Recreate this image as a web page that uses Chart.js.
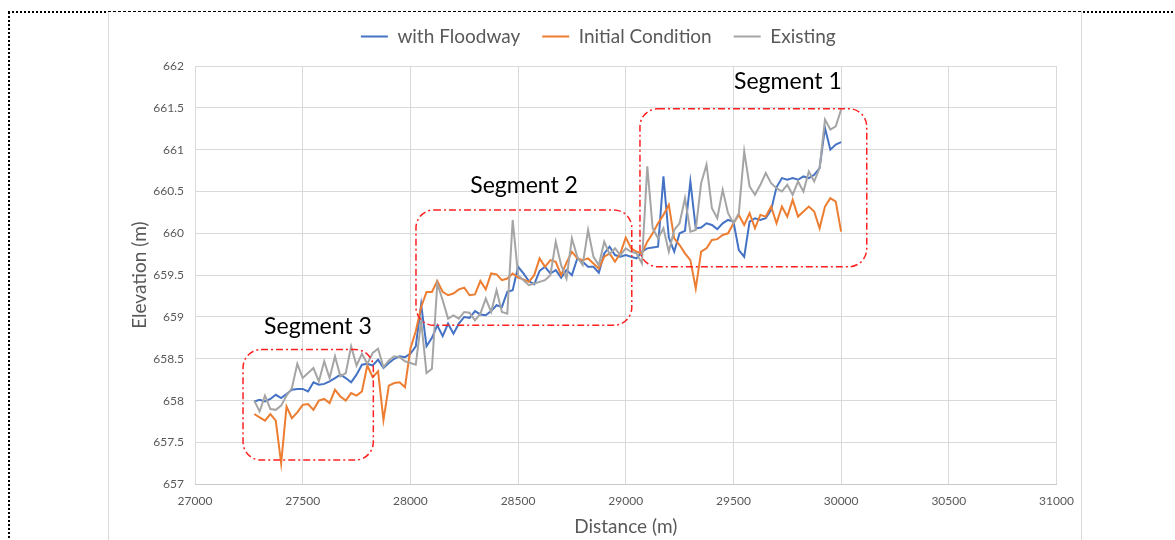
<!DOCTYPE html>
<html>
<head>
<meta charset="utf-8">
<script src="https://cdn.jsdelivr.net/npm/chart.js@4.4.0/dist/chart.umd.min.js"></script>
<style>
  html, body { margin: 0; padding: 0; background: #ffffff; }
  #wrap { width: 1175px; height: 540px; position: relative; }
</style>
</head>
<body>
<div id="wrap"><canvas id="profile" width="1175" height="540"></canvas></div>
<script>
// Station distances along the reach (m)
const distances = [
  27275,27300,27325,27350,27375,27400,27425,27450,27475,27500,
  27525,27550,27575,27600,27625,27650,27675,27700,27725,27750,
  27775,27800,27825,27850,27875,27900,27925,27950,27975,28000,
  28025,28050,28075,28100,28125,28150,28175,28200,28225,28250,
  28275,28300,28325,28350,28375,28400,28425,28450,28475,28500,
  28525,28550,28575,28600,28625,28650,28675,28700,28725,28750,
  28775,28800,28825,28850,28875,28900,28925,28950,28975,29000,
  29025,29050,29075,29100,29125,29150,29175,29200,29225,29250,
  29275,29300,29325,29350,29375,29400,29425,29450,29475,29500,
  29525,29550,29575,29600,29625,29650,29675,29700,29725,29750,
  29775,29800,29825,29850,29875,29900,29925,29950,29975,30000
];

// Water surface elevations (m)
const withFloodway = [
  657.99,658.01,657.99,658.02,658.07,658.03,658.08,658.13,658.14,658.14,
  658.11,658.22,658.19,658.20,658.23,658.27,658.31,658.27,658.22,658.31,
  658.43,658.44,658.42,658.49,658.39,658.45,658.50,658.53,658.52,658.56,
  658.65,659.15,658.65,658.75,658.90,658.77,658.92,658.80,658.92,659.00,
  658.99,659.07,659.03,659.02,659.07,659.14,659.12,659.30,659.32,659.60,
  659.52,659.43,659.39,659.55,659.60,659.52,659.56,659.47,659.56,659.50,
  659.70,659.66,659.60,659.60,659.53,659.76,659.84,659.74,659.72,659.74,
  659.72,659.70,659.78,659.82,659.83,659.84,660.68,659.95,659.78,660.00,
  660.03,660.62,660.06,660.07,660.12,660.10,660.05,660.12,660.16,660.14,
  659.80,659.72,660.14,660.18,660.16,660.18,660.28,660.55,660.66,660.64,
  660.66,660.64,660.68,660.66,660.70,660.78,661.26,661.00,661.06,661.09
];

const initialCondition = [
  657.84,657.80,657.76,657.84,657.76,657.25,657.93,657.79,657.86,657.95,
  657.96,657.89,658.00,658.02,657.97,658.13,658.05,658.00,658.09,658.06,
  658.11,658.42,658.28,658.35,657.77,658.18,658.21,658.22,658.16,658.62,
  658.83,659.12,659.30,659.30,659.43,659.30,659.26,659.28,659.33,659.35,
  659.26,659.27,659.43,659.33,659.52,659.51,659.44,659.46,659.52,659.47,
  659.45,659.42,659.50,659.70,659.60,659.68,659.66,659.50,659.65,659.78,
  659.70,659.68,659.70,659.64,659.58,659.72,659.76,659.66,659.76,659.95,
  659.82,659.78,659.76,659.90,660.00,660.12,660.22,660.34,659.94,659.86,
  659.76,659.68,659.34,659.78,659.82,659.92,659.93,659.98,660.00,660.12,
  660.22,660.10,660.24,660.06,660.22,660.20,660.32,660.12,660.32,660.20,
  660.40,660.20,660.26,660.32,660.26,660.06,660.32,660.42,660.38,660.02
];

const existing = [
  658.00,657.87,658.06,657.90,657.89,657.94,658.06,658.15,658.44,658.27,
  658.33,658.39,658.23,658.47,658.27,658.53,658.29,658.33,658.65,658.42,
  658.56,658.44,658.57,658.62,658.40,658.48,658.53,658.52,658.47,658.45,
  658.43,658.95,658.33,658.38,659.40,659.20,658.98,659.02,658.98,659.06,
  659.05,658.96,659.04,659.22,659.06,659.32,659.06,659.04,660.16,659.50,
  659.44,659.38,659.40,659.42,659.44,659.50,659.90,659.62,659.46,659.94,
  659.72,659.62,660.04,659.72,659.62,659.90,659.75,659.82,659.74,659.82,
  659.78,659.76,659.64,660.80,660.06,659.94,660.06,659.78,660.04,660.12,
  660.42,660.02,660.04,660.60,660.82,660.30,660.18,660.52,660.24,660.12,
  660.24,660.98,660.56,660.46,660.58,660.72,660.60,660.54,660.50,660.58,
  660.46,660.62,660.50,660.74,660.62,660.78,661.36,661.24,661.28,661.48
];

const xTicks = [27000, 27500, 28000, 28500, 29000, 29500, 30000, 30500, 31000];
const yTicks = [657, 657.5, 658, 658.5, 659, 659.5, 660, 660.5, 661, 661.5, 662];

// Reach segments, in distance / elevation units
const segments = [
  { name: 'Segment 1', x0: 29066, x1: 30119, yTop: 661.49, yBottom: 659.60, labelX: 29753, labelY: 661.81 },
  { name: 'Segment 2', x0: 28026, x1: 29028, yTop: 660.28, yBottom: 658.90, labelX: 28528, labelY: 660.57 },
  { name: 'Segment 3', x0: 27223, x1: 27828, yTop: 658.61, yBottom: 657.29, labelX: 27571, labelY: 658.88 }
];

const FONT = 'Lato, "Open Sans", sans-serif';
const TEXT = '#595959';

function points(values) {
  return distances.map((d, i) => ({ x: d, y: values[i] }));
}

function lineSet(label, values, color, order) {
  return {
    label, data: points(values), borderColor: color, backgroundColor: color,
    borderWidth: 2, pointRadius: 0, tension: 0, fill: false, order
  };
}

// White page with the document frame around the chart object
const pageFrame = {
  id: 'pageFrame',
  beforeDraw(chart) {
    const ctx = chart.ctx;
    ctx.save();
    ctx.fillStyle = '#ffffff';
    ctx.fillRect(0, 0, chart.width, chart.height);
    ctx.lineWidth = 1;
    ctx.strokeStyle = '#d9d9d9';
    ctx.beginPath();
    ctx.moveTo(108.5, 11); ctx.lineTo(108.5, 540);
    ctx.moveTo(1081.5, 11); ctx.lineTo(1081.5, 540);
    ctx.stroke();
    ctx.strokeStyle = '#000000';
    ctx.setLineDash([3, 2]);
    ctx.beginPath();
    ctx.moveTo(108, 11.5); ctx.lineTo(1082, 11.5);
    ctx.stroke();
    ctx.lineWidth = 2;
    ctx.setLineDash([2, 2]);
    ctx.beginPath();
    ctx.moveTo(8, 12); ctx.lineTo(108, 12);
    ctx.moveTo(1083, 12); ctx.lineTo(1175, 12);
    ctx.moveTo(9, 12); ctx.lineTo(9, 540);
    ctx.stroke();
    ctx.restore();
  }
};

// Move the legend row so it sits centred over the page, just under the frame
const legendShift = {
  id: 'legendShift',
  afterLayout(chart) {
    const lg = chart.legend;
    if (lg) {
      lg.left += 16; lg.right += 16;
      lg.top -= 10; lg.bottom -= 10;
    }
  }
};

// Dash-dot rounded boxes marking the reach segments, with their captions
const segmentBoxes = {
  id: 'segmentBoxes',
  afterDatasetsDraw(chart) {
    const { ctx, scales: { x, y } } = chart;
    ctx.save();
    segments.forEach(s => {
      const left = x.getPixelForValue(s.x0), right = x.getPixelForValue(s.x1);
      const top = y.getPixelForValue(s.yTop), bottom = y.getPixelForValue(s.yBottom);
      ctx.strokeStyle = '#ff2020';
      ctx.lineWidth = 1.5;
      ctx.setLineDash([7, 3, 2, 3]);
      ctx.beginPath();
      ctx.roundRect(left, top, right - left, bottom - top, 18);
      ctx.stroke();
      ctx.setLineDash([]);
      ctx.fillStyle = '#000000';
      ctx.font = '23px ' + FONT;
      ctx.textAlign = 'center';
      ctx.textBaseline = 'middle';
      ctx.fillText(s.name, x.getPixelForValue(s.labelX), y.getPixelForValue(s.labelY));
    });
    ctx.restore();
  }
};

new Chart(document.getElementById('profile'), {
  type: 'line',
  data: {
    datasets: [
      lineSet('with Floodway', withFloodway, '#4472C4', 3),
      lineSet('Initial Condition', initialCondition, '#ED7D31', 2),
      lineSet('Existing', existing, '#A5A5A5', 1)
    ]
  },
  options: {
    responsive: false,
    animation: false,
    devicePixelRatio: 1,
    layout: { padding: { left: 108, right: 118.5, top: 2, bottom: 0 } },
    plugins: {
      tooltip: { enabled: false },
      legend: {
        position: 'top',
        align: 'center',
        labels: {
          color: TEXT,
          font: { family: FONT, size: 19 },
          usePointStyle: true,
          pointStyle: 'line',
          pointStyleWidth: 27,
          padding: 22,
          sort: (a, b) => a.datasetIndex - b.datasetIndex
        }
      }
    },
    scales: {
      x: {
        type: 'linear',
        min: xTicks[0],
        max: xTicks[xTicks.length - 1],
        afterBuildTicks: s => { s.ticks = xTicks.map(v => ({ value: v })); },
        afterFit: s => { s.height = 55.7; },
        ticks: { color: TEXT, font: { family: FONT, size: 12 }, padding: 10, maxRotation: 0, callback: v => String(v) },
        grid: { color: '#d9d9d9', lineWidth: 1, drawTicks: false },
        border: { display: true, color: '#c9c9c9' },
        title: { display: true, text: 'Distance (m)', color: TEXT, font: { family: FONT, size: 19 }, padding: { top: 4, bottom: 1.5 } }
      },
      y: {
        type: 'linear',
        min: yTicks[0],
        max: yTicks[yTicks.length - 1],
        afterBuildTicks: s => { s.ticks = yTicks.map(v => ({ value: v })); },
        afterFit: s => { s.width = 87; s.paddingTop = 66; },
        ticks: { color: TEXT, font: { family: FONT, size: 12 }, padding: 11, callback: v => String(v) },
        grid: { color: '#d9d9d9', lineWidth: 1, drawTicks: false },
        border: { display: false },
        title: { display: true, text: 'Elevation (m)', color: TEXT, font: { family: FONT, size: 19 }, padding: { top: 20.5, bottom: 0 } }
      }
    }
  },
  plugins: [pageFrame, legendShift, segmentBoxes]
});
</script>
</body>
</html>
